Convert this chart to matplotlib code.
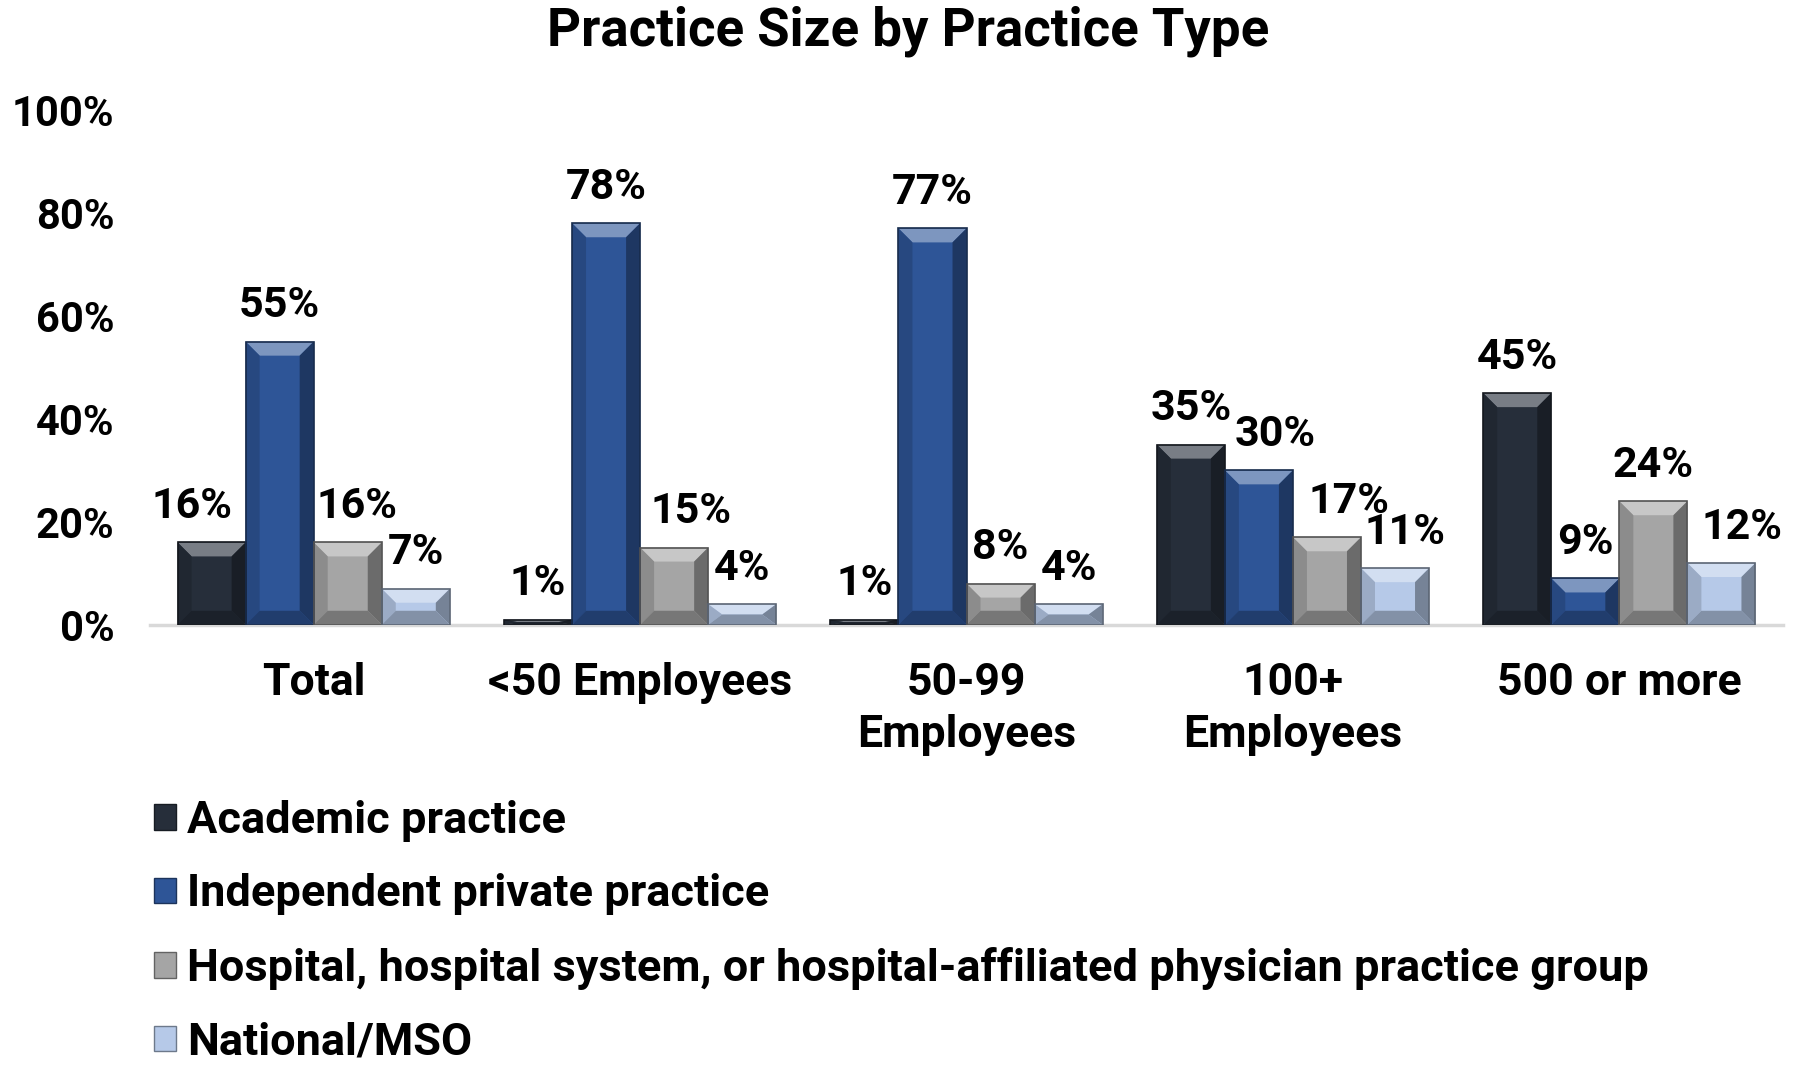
import numpy as np
import matplotlib
matplotlib.use("Agg")
import matplotlib.pyplot as plt
from matplotlib.patches import Polygon, Patch
from matplotlib.colors import to_rgb

plt.rcParams['font.family'] = ['Roboto', 'DejaVu Sans']

categories = ["Total", "<50 Employees", "50-99\nEmployees", "100+\nEmployees", "500 or more"]
series = ["Academic practice",
          "Independent private practice",
          "Hospital, hospital system, or hospital-affiliated physician practice group",
          "National/MSO"]
academic = [16, 1, 1, 35, 45]
independent = [55, 78, 77, 30, 9]
hospital = [16, 15, 8, 17, 24]
national = [7, 4, 4, 11, 12]
values = [academic, independent, hospital, national]
colors = ["#262e3a", "#2e5597", "#a5a5a5", "#b6c9e8"]
yticks = [0, 20, 40, 60, 80, 100]

# labels nudged sideways (points) so they don't collide, as in the original
label_nudge = {(0, 0): -14, (2, 0): 7, (2, 1): 12, (1, 3): 12, (2, 3): 16,
               (3, 3): 7, (3, 4): 15}


def shade(c, f):
    r = np.array(to_rgb(c))
    if f >= 0:
        return tuple(r + (1 - r) * f)
    return tuple(r * (1 + f))


def bevel(ax, rect, color, px=14):
    x, y0, w, h = rect.get_x(), rect.get_y(), rect.get_width(), rect.get_height()
    p0 = ax.transData.transform((0, 0))
    p1 = ax.transData.transform((1, 1))
    bx = min(px / (p1[0] - p0[0]), w / 2)
    by = min(px / (p1[1] - p0[1]), h / 2)
    y1 = y0 + h
    oBL, oBR, oTR, oTL = (x, y0), (x + w, y0), (x + w, y1), (x, y1)
    iBL, iBR = (x + bx, y0 + by), (x + w - bx, y0 + by)
    iTR, iTL = (x + w - bx, y1 - by), (x + bx, y1 - by)
    # top highlight, sides and bottom a bit darker, like the excel bevel
    parts = [([oTL, oTR, iTR, iTL], 0.38),
             ([oBL, oTL, iTL, iBL], -0.15),
             ([oTR, oBR, iBR, iTR], -0.35),
             ([oBL, oBR, iBR, iBL], -0.28)]
    for pts, f in parts:
        ax.add_patch(Polygon(pts, closed=True, facecolor=shade(color, f),
                             edgecolor='none', zorder=3))
    ax.add_patch(Polygon([oBL, oBR, oTR, oTL], closed=True, fill=False,
                         edgecolor=shade(color, -0.5), linewidth=1.2, zorder=4))


fig = plt.figure(figsize=(18, 10.68), dpi=100)
ax = fig.add_axes([0.0836, 0.415, 0.9067, 0.482])

n = len(series)
width = 0.2085
x = np.arange(len(categories))
ax.set_xlim(-0.5, len(categories) - 0.5)
ax.set_ylim(0, 100)

for i, (vals, col) in enumerate(zip(values, colors)):
    pos = x + (i - (n - 1) / 2) * width
    b = ax.bar(pos, vals, width, color=col, label=series[i], zorder=2)
    for j, (rect, v) in enumerate(zip(b, vals)):
        bevel(ax, rect, col)
        ax.annotate(f"{v}%", (rect.get_x() + rect.get_width() / 2, rect.get_height()),
                    xytext=(label_nudge.get((i, j), 0), 11), textcoords='offset points',
                    ha='center', va='bottom', fontsize=31, fontweight='bold',
                    clip_on=False)

ax.set_yticks(yticks)
ax.set_yticklabels([f"{t}%" for t in yticks], fontsize=30, fontweight='bold')
ax.set_xticks(x)
ax.set_xticklabels(categories, fontsize=32, fontweight='bold', linespacing=1.3)
ax.tick_params(axis='both', length=0)
ax.tick_params(axis='y', pad=26)
ax.tick_params(axis='x', pad=27)
for s in ['top', 'right', 'left']:
    ax.spines[s].set_visible(False)
ax.spines['bottom'].set_color('#d9d9d9')
ax.spines['bottom'].set_linewidth(2.5)

fig.text(0.5045, 0.9705, "Practice Size by Practice Type", fontsize=38,
         fontweight='bold', ha='center', va='center')

handles = [Patch(facecolor=c, edgecolor=shade(c, -0.4)) for c in colors]
fig.legend(handles, series, loc='upper left', bbox_to_anchor=(0.0753, 0.268),
           frameon=False, handlelength=0.5, handleheight=0.5,
           handletextpad=0.25, labelspacing=0.70, borderaxespad=0,
           prop={'size': 32.5, 'weight': 'bold'})

fig.savefig("out.png", dpi=100)
